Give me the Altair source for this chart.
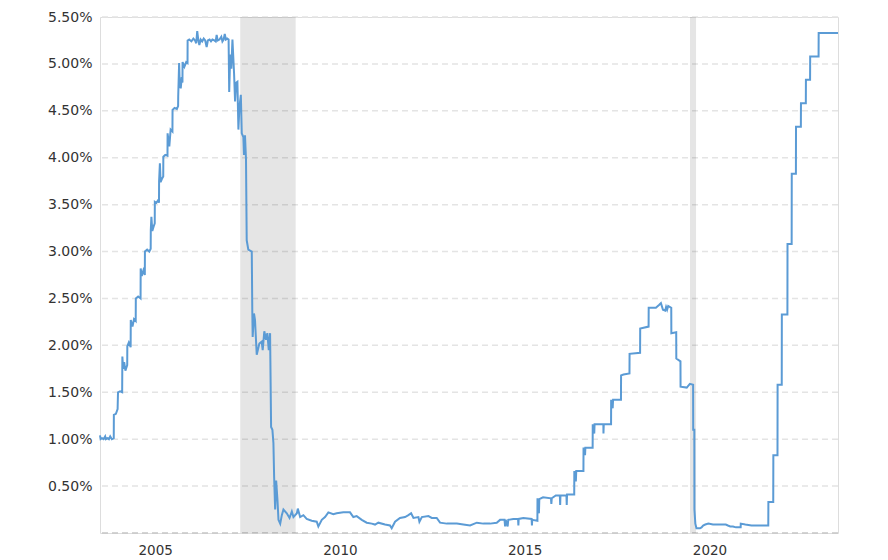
import altair as alt
import pandas as pd

# Effective federal funds rate (%)
era_2004_2006 = [
    ("2004-02-14", 1.04), ("2004-02-20", 1.00), ("2004-03-05", 1.01), ("2004-03-20", 1.00),
    ("2004-04-05", 1.03), ("2004-04-12", 1.00), ("2004-04-28", 1.01), ("2004-05-12", 1.00),
    ("2004-05-25", 1.03), ("2004-06-10", 1.00), ("2004-06-29", 1.01),
    ("2004-06-30", 1.26), ("2004-07-20", 1.27), ("2004-08-06", 1.32),
    ("2004-08-10", 1.50), ("2004-08-30", 1.51), ("2004-09-20", 1.50),
    ("2004-09-22", 1.88), ("2004-09-30", 1.75), ("2004-10-10", 1.82), ("2004-10-22", 1.73), ("2004-11-09", 1.79),
    ("2004-11-10", 1.99), ("2004-11-25", 2.03), ("2004-12-13", 1.98),
    ("2004-12-14", 2.27), ("2004-12-31", 2.20), ("2005-01-15", 2.28), ("2005-02-01", 2.26),
    ("2005-02-02", 2.50), ("2005-02-25", 2.52), ("2005-03-21", 2.50),
    ("2005-03-22", 2.82), ("2005-04-02", 2.74), ("2005-04-18", 2.80), ("2005-05-02", 2.75),
    ("2005-05-03", 3.00), ("2005-05-25", 3.02), ("2005-06-15", 3.00), ("2005-06-29", 3.03),
    ("2005-06-30", 3.23), ("2005-07-06", 3.37), ("2005-07-15", 3.22), ("2005-08-01", 3.28), ("2005-08-08", 3.30),
    ("2005-08-09", 3.53), ("2005-08-25", 3.52), ("2005-09-12", 3.55), ("2005-09-19", 3.52),
    ("2005-09-20", 3.75), ("2005-09-28", 3.94), ("2005-10-05", 3.74), ("2005-10-20", 3.78), ("2005-10-31", 3.80),
    ("2005-11-01", 4.01), ("2005-11-20", 4.03), ("2005-12-12", 4.02),
    ("2005-12-13", 4.26), ("2005-12-30", 4.12), ("2006-01-12", 4.30), ("2006-01-30", 4.28),
    ("2006-01-31", 4.51), ("2006-02-20", 4.53), ("2006-03-15", 4.52), ("2006-03-27", 4.55),
    ("2006-03-28", 4.65), ("2006-04-06", 5.01), ("2006-04-12", 4.78), ("2006-04-22", 4.74),
    ("2006-05-02", 4.86), ("2006-05-09", 4.80),
    ("2006-05-10", 5.02), ("2006-05-28", 4.97), ("2006-06-15", 5.02), ("2006-06-28", 5.01),
]

era_2006_2009 = [
    ("2006-06-29", 5.25), ("2006-07-15", 5.26), ("2006-08-05", 5.24), ("2006-08-25", 5.27),
    ("2006-09-10", 5.25), ("2006-09-22", 5.22), ("2006-10-02", 5.35), ("2006-10-12", 5.26),
    ("2006-10-23", 5.20), ("2006-11-05", 5.26), ("2006-11-20", 5.24), ("2006-12-05", 5.27),
    ("2006-12-20", 5.25), ("2007-01-03", 5.18), ("2007-01-15", 5.25), ("2007-02-01", 5.26),
    ("2007-02-15", 5.24), ("2007-03-01", 5.26), ("2007-03-20", 5.25), ("2007-04-02", 5.24),
    ("2007-04-12", 5.31), ("2007-04-22", 5.25), ("2007-05-10", 5.26), ("2007-05-28", 5.29),
    ("2007-06-08", 5.24), ("2007-06-20", 5.26), ("2007-07-01", 5.32), ("2007-07-12", 5.26),
    ("2007-07-25", 5.27), ("2007-08-08", 5.26),
    ("2007-08-14", 4.70), ("2007-08-24", 5.10), ("2007-09-04", 4.95), ("2007-09-15", 5.26),
    ("2007-10-01", 4.90), ("2007-10-11", 4.60), ("2007-10-21", 4.80), ("2007-11-03", 4.81),
    ("2007-11-13", 4.30), ("2007-11-23", 4.54), ("2007-12-07", 4.67), ("2007-12-16", 4.26),
    ("2008-01-01", 4.22), ("2008-01-07", 4.03), ("2008-01-17", 4.24), ("2008-01-27", 3.98),
    ("2008-02-03", 3.12), ("2008-02-19", 3.02), ("2008-03-24", 3.00),
    ("2008-03-29", 2.38), ("2008-04-02", 2.09), ("2008-04-15", 2.34), ("2008-04-25", 2.27),
    ("2008-05-12", 1.90), ("2008-06-07", 2.02), ("2008-06-30", 2.04), ("2008-07-10", 1.95),
    ("2008-07-26", 2.15), ("2008-08-12", 2.06), ("2008-08-25", 2.13), ("2008-09-08", 1.95),
    ("2008-09-21", 2.13), ("2008-10-01", 1.13), ("2008-10-14", 1.10), ("2008-10-24", 0.96),
    ("2008-10-31", 0.60), ("2008-11-10", 0.25), ("2008-11-20", 0.56), ("2008-12-03", 0.35),
    ("2008-12-13", 0.14), ("2008-12-30", 0.10),
]

era_2009_2015 = [
    ("2009-01-15", 0.19), ("2009-01-31", 0.25), ("2009-03-05", 0.21), ("2009-04-01", 0.16),
    ("2009-04-24", 0.23), ("2009-05-10", 0.17), ("2009-06-13", 0.21), ("2009-06-22", 0.26),
    ("2009-07-15", 0.17), ("2009-08-16", 0.19), ("2009-09-18", 0.15), ("2009-11-06", 0.13),
    ("2009-12-26", 0.12), ("2010-01-11", 0.07), ("2010-02-14", 0.14), ("2010-03-18", 0.17),
    ("2010-04-20", 0.22), ("2010-06-08", 0.20), ("2010-07-11", 0.21), ("2010-09-15", 0.22),
    ("2010-11-20", 0.22), ("2010-12-23", 0.17), ("2011-01-25", 0.18), ("2011-03-16", 0.14),
    ("2011-05-04", 0.11), ("2011-06-23", 0.10), ("2011-07-25", 0.09), ("2011-08-27", 0.11),
    ("2011-11-01", 0.09), ("2011-12-20", 0.08), ("2012-01-06", 0.05), ("2012-02-08", 0.12),
    ("2012-03-28", 0.16), ("2012-05-17", 0.17), ("2012-06-19", 0.19), ("2012-07-16", 0.21),
    ("2012-08-08", 0.16), ("2012-09-26", 0.17), ("2012-10-06", 0.12), ("2012-10-30", 0.17),
    ("2013-01-03", 0.18), ("2013-02-05", 0.16), ("2013-03-26", 0.16), ("2013-04-28", 0.11),
    ("2013-07-03", 0.10), ("2013-10-11", 0.10), ("2013-12-14", 0.09), ("2014-02-19", 0.08),
    ("2014-04-26", 0.11), ("2014-06-30", 0.10), ("2014-09-04", 0.10), ("2014-11-09", 0.11),
    ("2014-12-12", 0.14), ("2015-01-25", 0.14), ("2015-01-31", 0.07), ("2015-02-06", 0.14),
    ("2015-02-25", 0.07), ("2015-03-03", 0.14), ("2015-04-22", 0.15), ("2015-06-08", 0.15),
    ("2015-06-11", 0.08), ("2015-06-14", 0.15), ("2015-07-30", 0.16), ("2015-10-20", 0.15),
    ("2015-10-23", 0.08), ("2015-10-26", 0.14), ("2015-12-16", 0.13),
]

era_2015_2020 = [
    ("2015-12-17", 0.37), ("2015-12-31", 0.21), ("2016-01-04", 0.36), ("2016-02-10", 0.38),
    ("2016-04-28", 0.37), ("2016-05-02", 0.31), ("2016-05-06", 0.37), ("2016-06-15", 0.40),
    ("2016-07-25", 0.40), ("2016-07-28", 0.30), ("2016-07-31", 0.40), ("2016-09-28", 0.40),
    ("2016-10-01", 0.30), ("2016-10-04", 0.41), ("2016-12-14", 0.41),
    ("2016-12-15", 0.66), ("2016-12-30", 0.55), ("2017-01-03", 0.66), ("2017-03-15", 0.66),
    ("2017-03-16", 0.91), ("2017-03-31", 0.83), ("2017-04-03", 0.91), ("2017-06-14", 0.91),
    ("2017-06-15", 1.16), ("2017-06-30", 1.06), ("2017-07-03", 1.16), ("2017-09-28", 1.16),
    ("2017-09-29", 1.06), ("2017-10-02", 1.16), ("2017-12-13", 1.16),
    ("2017-12-14", 1.42), ("2017-12-29", 1.33), ("2018-01-02", 1.42), ("2018-03-21", 1.42),
    ("2018-03-22", 1.68), ("2018-04-15", 1.69), ("2018-06-13", 1.70),
    ("2018-06-14", 1.91), ("2018-09-26", 1.92),
    ("2018-09-27", 2.18), ("2018-12-19", 2.20),
    ("2018-12-20", 2.40), ("2019-03-01", 2.40), ("2019-04-01", 2.43), ("2019-04-20", 2.45),
    ("2019-05-10", 2.38), ("2019-06-01", 2.37), ("2019-06-10", 2.41), ("2019-06-20", 2.38),
    ("2019-07-01", 2.42), ("2019-07-31", 2.40),
    ("2019-08-01", 2.13), ("2019-09-18", 2.14),
    ("2019-09-19", 1.86), ("2019-10-30", 1.83),
    ("2019-10-31", 1.56), ("2019-12-31", 1.55), ("2020-01-31", 1.59), ("2020-03-03", 1.58),
]

era_2020_2024 = [
    ("2020-03-04", 1.10), ("2020-03-15", 1.10), ("2020-03-16", 0.25), ("2020-03-25", 0.10),
    ("2020-04-05", 0.05), ("2020-04-20", 0.05), ("2020-05-10", 0.05), ("2020-05-25", 0.06),
    ("2020-06-10", 0.08), ("2020-07-01", 0.09), ("2020-08-01", 0.10), ("2020-09-15", 0.09),
    ("2020-11-01", 0.09), ("2020-12-31", 0.09), ("2021-01-20", 0.09), ("2021-02-10", 0.08),
    ("2021-03-05", 0.07), ("2021-04-01", 0.07), ("2021-05-01", 0.06), ("2021-06-16", 0.06),
    ("2021-06-17", 0.10), ("2021-08-01", 0.09), ("2021-10-01", 0.08), ("2022-01-01", 0.08),
    ("2022-03-16", 0.08), ("2022-03-17", 0.33), ("2022-05-04", 0.33), ("2022-05-05", 0.83),
    ("2022-06-15", 0.83), ("2022-06-16", 1.58), ("2022-07-27", 1.58), ("2022-07-28", 2.33),
    ("2022-09-21", 2.33), ("2022-09-22", 3.08), ("2022-11-02", 3.08), ("2022-11-03", 3.83),
    ("2022-12-14", 3.83), ("2022-12-15", 4.33), ("2023-02-01", 4.33), ("2023-02-02", 4.58),
    ("2023-03-22", 4.58), ("2023-03-23", 4.83), ("2023-05-03", 4.83), ("2023-05-04", 5.08),
    ("2023-07-26", 5.08), ("2023-07-27", 5.33), ("2024-02-03", 5.33),
]

recession_start = ["2007-12-01", "2020-02-01"]
recession_end = ["2009-06-01", "2020-04-01"]

y_ticks = [0, 0.5, 1.0, 1.5, 2.0, 2.5, 3.0, 3.5, 4.0, 4.5, 5.0, 5.5]
grid_levels = [0.5, 1.0, 1.5, 2.0, 2.5, 3.0, 3.5, 4.0, 4.5, 5.0, 5.5]
zero_level = [0]
x_label_years = [2005, 2010, 2015, 2020]

rows = era_2004_2006 + era_2006_2009 + era_2009_2015 + era_2015_2020 + era_2020_2024
df = pd.DataFrame(rows, columns=["date", "rate"])
rec = pd.DataFrame({"start": recession_start, "end": recession_end})
grid_df = pd.DataFrame({"g": grid_levels})
zero_df = pd.DataFrame({"z": zero_level})

W, H = 738, 516

x_scale = alt.Scale(
    domain=[alt.DateTime(year=2004, month=2, date=14), alt.DateTime(year=2024, month=2, date=3)],
    nice=False,
)
y_scale = alt.Scale(domain=[0, 5.5], nice=False, zero=False)

x_axis = alt.Axis(
    values=[alt.DateTime(year=yy, month=8, date=12) for yy in x_label_years],
    format="%Y",
    grid=False,
    ticks=False,
    domain=False,
    labelFont="DejaVu Sans",
    labelFontSize=13.5,
    labelColor="#333333",
    labelPadding=10,
)

y_axis = alt.Axis(
    values=y_ticks,
    labelExpr="datum.value == 0 ? '' : format(datum.value, '.2f') + '%'",
    grid=False,
    ticks=False,
    domain=False,
    labelFont="DejaVu Sans",
    labelFontSize=14,
    labelColor="#333333",
    labelPadding=8,
)

grid = alt.Chart(grid_df).mark_rule(
    color="#e4e4e4", strokeDash=[6, 4], strokeWidth=1.5
).encode(y=alt.Y("g:Q", scale=y_scale, axis=None))

zero_rule = alt.Chart(zero_df).mark_rule(
    color="#c6c6c6", strokeDash=[6, 4], strokeWidth=1.5
).encode(y=alt.Y("z:Q", scale=y_scale, axis=None))

bands = alt.Chart(rec).mark_rect(color="#000000", opacity=0.1).encode(
    x=alt.X("start:T", scale=x_scale, axis=None),
    x2="end:T",
    y=alt.value(0),
    y2=alt.value(H),
)

line = alt.Chart(df).mark_line(color="#5b9bd5", strokeWidth=2).encode(
    x=alt.X("date:T", scale=x_scale, title=None, axis=x_axis),
    y=alt.Y("rate:Q", scale=y_scale, title=None, axis=y_axis),
)

chart = (
    alt.layer(grid, zero_rule, bands, line)
    .resolve_axis(x="independent", y="independent")
    .properties(
        width=W,
        height=H,
        autosize=alt.AutoSizeParams(type="none"),
        padding={"left": 92, "top": 9, "right": 42, "bottom": 30},
    )
    .configure_view(stroke="transparent", strokeWidth=0)
    .configure_axis(domainColor="transparent", gridColor="transparent", tickColor="transparent")
    .configure(background="white")
)

chart.save("out.html", embed_options={"renderer": "svg", "actions": False})
